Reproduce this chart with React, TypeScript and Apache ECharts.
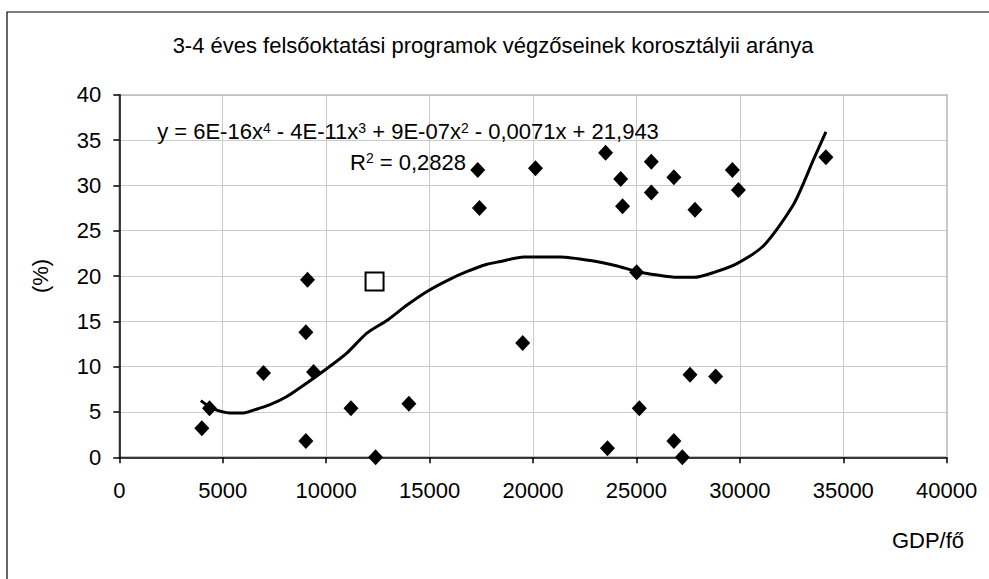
import React, { useEffect, useRef } from "react";
import * as echarts from "echarts";

const title = "3-4 éves felsőoktatási programok végzőseinek korosztályii aránya";
const xName = "GDP/fő";
const yName = "(%)";
const xTicks = [0, 5000, 10000, 15000, 20000, 25000, 30000, 35000, 40000];
const yTicks = [0, 5, 10, 15, 20, 25, 30, 35, 40];

// Countries: [GDP per capita, %]
const countries: [number, number][] = [
  [3990, 3.2], [4360, 5.4], [6970, 9.3], [9020, 13.8], [9100, 19.6], [9390, 9.4],
  [9020, 1.8], [11200, 5.4], [12390, 0], [14000, 5.9], [17330, 31.7], [17410, 27.5],
  [19500, 12.6], [20120, 31.9], [23510, 33.6], [23600, 1.0], [24240, 30.7], [24330, 27.7],
  [25010, 20.4], [25140, 5.4], [25720, 32.6], [25720, 29.2], [26810, 30.9], [26810, 1.8],
  [27220, 0], [27590, 9.1], [27830, 27.3], [28830, 8.9], [29640, 31.7], [29930, 29.5],
  [34160, 33.1],
];
// Highlighted country (hollow square)
const highlighted: [number, number][] = [[12340, 19.4]];

// Polynomial trendline as drawn
const trend: [number, number][] = [
  [3940, 6.25], [4500, 5.4], [5360, 4.9], [6020, 4.9], [6490, 5.2], [7290, 5.8],
  [8100, 6.7], [9070, 8.2], [10040, 9.8], [11000, 11.5], [11970, 13.7], [12940, 15.1],
  [13910, 16.8], [14880, 18.3], [15850, 19.5], [16820, 20.5], [17780, 21.3], [18430, 21.6],
  [19560, 22.1], [20500, 22.1], [21330, 22.1], [22780, 21.7], [24070, 21.1], [25010, 20.5],
  [26010, 20.1], [26980, 19.85], [27780, 19.85], [28750, 20.4], [29880, 21.4], [31170, 23.4],
  [32620, 28.0], [33590, 33.0], [34160, 35.9],
];

const eqLine1 = "y = 6E-16x{sup|4} - 4E-11x{sup|3} + 9E-07x{sup|2} - 0,0071x + 21,943";
const eqLine2 = "R{sup|2} = 0,2828";

const FONT = "'Liberation Sans', Arial, sans-serif";
const FS = 22;

export default function App() {
  const ref = useRef<HTMLDivElement>(null);
  useEffect(() => {
    if (!ref.current) return;
    const chart = echarts.init(ref.current, undefined, { renderer: "svg" });
    const richBase = {
      fontFamily: FONT,
      fontSize: FS,
      fill: "#000",
      rich: {
        sup: { fontSize: 14, fontFamily: FONT, verticalAlign: "top", lineHeight: 22 } as any,
      },
    };
    chart.setOption({
      animation: false,
      backgroundColor: "#fff",
      textStyle: { fontFamily: FONT },
      grid: {
        left: 119.3,
        top: 94.7,
        right: 42.3,
        bottom: 121.7,
        show: true,
        borderColor: "#808080",
        borderWidth: 1.5,
        backgroundColor: "transparent",
      },
      xAxis: {
        type: "value",
        min: xTicks[0],
        max: xTicks[xTicks.length - 1],
        interval: xTicks[1] - xTicks[0],
        axisLine: { show: true, onZero: false, lineStyle: { color: "#000", width: 1.5 } },
        axisTick: { show: true, inside: false, length: 6, lineStyle: { color: "#000", width: 1.5 } },
        axisLabel: {
          color: "#000",
          fontSize: FS,
          fontFamily: FONT,
          margin: 22,
          formatter: (v: number) => String(v),
        },
        splitLine: { show: true, lineStyle: { color: "#cccccc", width: 1 } },
      },
      yAxis: {
        type: "value",
        min: yTicks[0],
        max: yTicks[yTicks.length - 1],
        interval: yTicks[1] - yTicks[0],
        name: yName,
        nameLocation: "middle",
        nameGap: 68,
        nameRotate: 90,
        nameTextStyle: { color: "#000", fontSize: FS, fontFamily: FONT },
        axisLine: { show: true, onZero: false, lineStyle: { color: "#000", width: 1.5 } },
        axisTick: { show: true, inside: false, length: 6, lineStyle: { color: "#000", width: 1.5 } },
        axisLabel: {
          color: "#000",
          fontSize: FS,
          fontFamily: FONT,
          margin: 18,
          formatter: (v: number) => String(v),
        },
        splitLine: { show: true, lineStyle: { color: "#cccccc", width: 1 } },
      },
      graphic: [
        {
          type: "rect",
          shape: { x: 7, y: 12, width: 1200, height: 800 },
          style: { fill: "none", stroke: "#000", lineWidth: 1.2 },
          z: 100,
          silent: true,
        },
        {
          type: "text",
          x: 493,
          y: 45,
          style: {
            text: title,
            fontFamily: FONT,
            fontSize: FS,
            fill: "#000",
            align: "center",
            verticalAlign: "middle",
          },
        },
        {
          type: "text",
          x: 928,
          y: 540,
          style: {
            text: xName,
            fontFamily: FONT,
            fontSize: FS,
            fill: "#000",
            align: "center",
            verticalAlign: "middle",
          },
        },
        {
          type: "text",
          x: 408,
          y: 131.5,
          z: 50,
          style: { ...richBase, text: eqLine1, align: "center", verticalAlign: "middle" } as any,
        },
        {
          type: "text",
          x: 408,
          y: 162,
          z: 50,
          style: { ...richBase, text: eqLine2, align: "center", verticalAlign: "middle" } as any,
        },
      ],
      series: [
        {
          type: "line",
          data: trend,
          showSymbol: false,
          smooth: 0.25,
          lineStyle: { color: "#000", width: 3 },
          z: 3,
          silent: true,
        },
        {
          type: "scatter",
          data: countries,
          symbol: "diamond",
          symbolSize: [15, 16],
          itemStyle: { color: "#000", opacity: 1 },
          clip: false,
          z: 4,
        },
        {
          type: "scatter",
          data: highlighted,
          symbol: "rect",
          symbolSize: 18,
          itemStyle: { color: "#fff", borderColor: "#000", borderWidth: 2, opacity: 1 },
          clip: false,
          z: 4,
        },
      ],
    });
    return () => chart.dispose();
  }, []);
  return (
    <div
      ref={ref}
      style={{ position: "fixed", left: 0, top: 0, width: 989, height: 579, background: "#fff" }}
    />
  );
}
